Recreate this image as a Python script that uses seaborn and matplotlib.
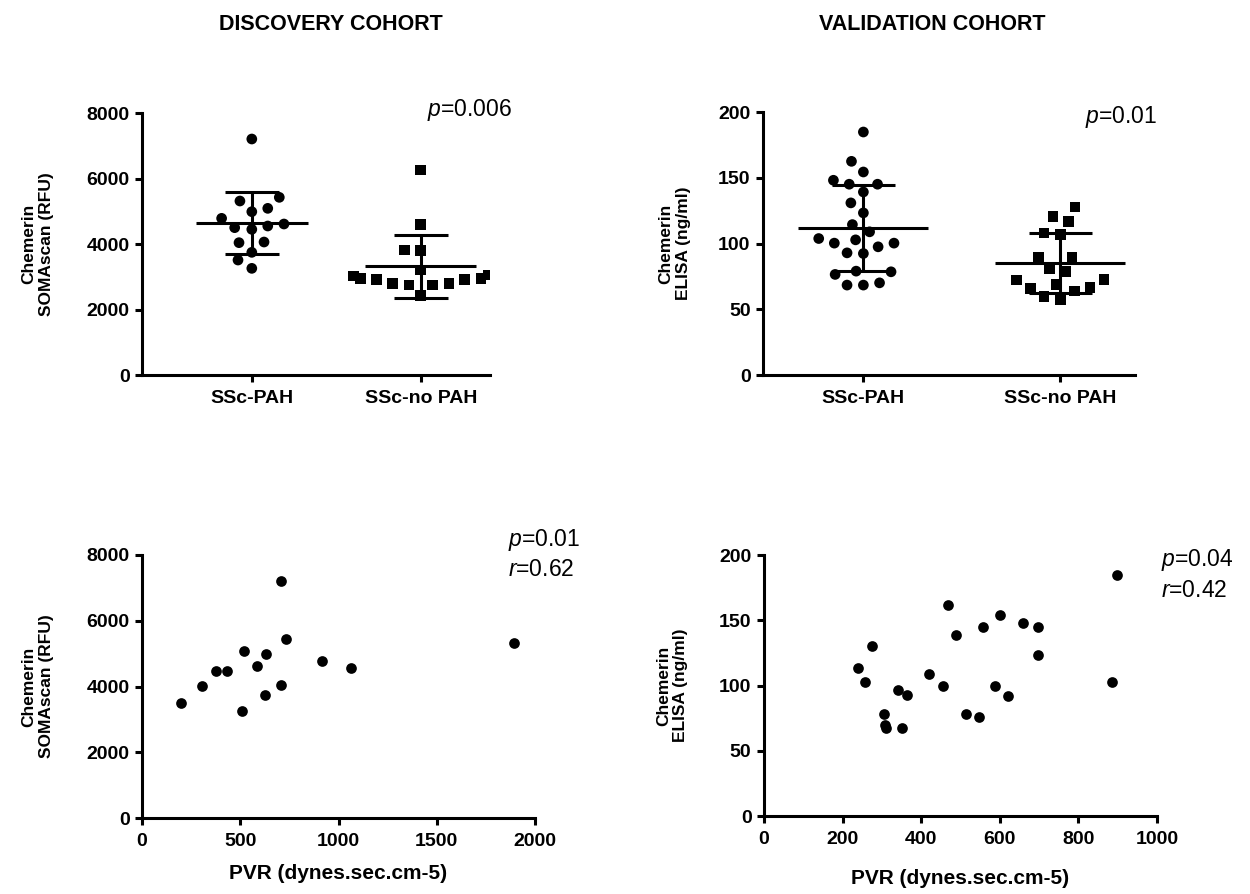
import numpy as np
import pandas as pd
import matplotlib
matplotlib.use('Agg')
import matplotlib.pyplot as plt
import seaborn as sns

# chemerin, discovery cohort (SOMAscan, RFU)
groups = ['SSc-PAH', 'SSc-no PAH']
disc_pah = [7206, 5425, 5313, 5089, 4987, 4784, 4611, 4499, 4448, 4550, 4061, 4041, 3746, 3511, 3257]
disc_nopah = [6260, 4601, 3796, 3817, 3206, 3053, 2952, 3023, 2748, 2952, 2799, 2799, 2748, 2921, 2921, 2422]

# chemerin, validation cohort (ELISA, ng/ml)
val_pah = [184.8, 162.5, 154.4, 145.1, 148.1, 145.1, 139.2, 130.9, 123.3, 114.4, 108.9, 100.3,
           103.8, 102.8, 97.5, 100.3, 92.9, 92.4, 79.0, 78.5, 76.5, 68.4, 70.1, 68.4]
val_nopah = [127.8, 120.8, 117.0, 108.1, 106.8, 89.4, 89.4, 81.0, 78.5, 72.7, 72.2, 69.1,
             65.8, 66.6, 63.8, 57.7, 59.5]

# PVR vs chemerin (PAH patients)
disc_pvr = [705, 732, 518, 633, 587, 375, 433, 915, 1066, 1893, 306, 705, 627, 197, 508]
disc_chem = [7208, 5442, 5086, 4985, 4609, 4467, 4467, 4761, 4569, 5310, 4030, 4051, 3756, 3513, 3259]
val_pvr = [899, 467, 600, 659, 697, 556, 488, 276, 697, 240, 420, 258, 886, 456, 587, 340,
           364, 622, 306, 513, 546, 309, 310, 350]
val_chem = [184.7, 162.0, 153.8, 147.7, 145.1, 145.1, 138.7, 130.6, 123.1, 113.7, 109.1, 102.7,
            102.5, 99.9, 99.9, 96.3, 92.5, 92.0, 77.9, 77.9, 75.9, 69.7, 67.4, 67.7]

sns.set_style('ticks')
plt.rcParams['font.family'] = ['Liberation Sans', 'DejaVu Sans']
plt.rcParams['text.color'] = 'black'
plt.rcParams['axes.labelcolor'] = 'black'
plt.rcParams['xtick.color'] = 'black'
plt.rcParams['ytick.color'] = 'black'
plt.rcParams['mathtext.fontset'] = 'custom'
plt.rcParams['mathtext.it'] = 'Liberation Sans:italic'
plt.rcParams['mathtext.rm'] = 'Liberation Sans'

LW = 2.2
MS = 7.7


def style_axes(ax, xsize):
    sns.despine(ax=ax)
    for side in ['left', 'bottom']:
        ax.spines[side].set_linewidth(LW)
        ax.spines[side].set_color('black')
    ax.tick_params(axis='both', colors='black', width=LW, length=5, direction='out')
    ax.tick_params(axis='y', labelsize=14, pad=4)
    ax.tick_params(axis='x', labelsize=xsize, pad=6)
    for lbl in ax.get_xticklabels() + ax.get_yticklabels():
        lbl.set_fontweight('bold')


def dot_panel(ax, pah, nopah, ymax, ylabel, xlim):
    df = pd.DataFrame({'group': [groups[0]] * len(pah) + [groups[1]] * len(nopah),
                       'value': pah + nopah})
    # invisible edge spreads the swarm a bit, like the GraphPad column layout
    sns.swarmplot(data=df[df.group == groups[0]], x='group', y='value', order=groups,
                  marker='o', color='black', size=MS, linewidth=3.5, edgecolor='none', ax=ax)
    sns.swarmplot(data=df[df.group == groups[1]], x='group', y='value', order=groups,
                  marker='s', color='black', size=MS, linewidth=3.5, edgecolor='none', ax=ax)
    stats = df.groupby('group')['value'].agg(['mean', 'std'])
    for i, g in enumerate(groups):
        m, s = stats.loc[g, 'mean'], stats.loc[g, 'std']
        ax.hlines(m, i - 0.33, i + 0.33, color='black', lw=LW)
        ax.hlines([m - s, m + s], i - 0.16, i + 0.16, color='black', lw=LW)
        ax.vlines(i, m - s, m + s, color='black', lw=LW)
    ax.set_xlim(*xlim)
    ax.set_ylim(0, ymax)
    ax.set_yticks(np.linspace(0, ymax, 5))
    ax.set_xlabel('')
    ax.set_ylabel(ylabel, fontsize=12.5, fontweight='bold', va='center', linespacing=1.2)
    style_axes(ax, 14)


def corr_panel(ax, x, y, xmax, xstep, ymax, ylabel):
    sns.scatterplot(x=x, y=y, color='black', s=MS ** 2, linewidth=0, ax=ax)
    ax.set_xlim(0, xmax)
    ax.set_ylim(0, ymax)
    ax.set_xticks(np.arange(0, xmax + 1, xstep))
    ax.set_yticks(np.linspace(0, ymax, 5))
    ax.set_xlabel('PVR (dynes.sec.cm-5)', fontsize=15, fontweight='bold', labelpad=10)
    ax.set_ylabel(ylabel, fontsize=12.5, fontweight='bold', va='center', linespacing=1.2)
    style_axes(ax, 14)


fig = plt.figure(figsize=(12.5, 8.94), dpi=100)
ax1 = fig.add_axes([0.1136, 0.5805, 0.2784, 0.2931])
ax2 = fig.add_axes([0.6104, 0.5805, 0.2976, 0.2942])
ax3 = fig.add_axes([0.1136, 0.0850, 0.3144, 0.2942])
ax4 = fig.add_axes([0.6112, 0.0872, 0.3144, 0.2919])

dot_panel(ax1, disc_pah, disc_nopah, 8000, 'Chemerin\nSOMAscan (RFU)', (-0.65, 1.41))
dot_panel(ax2, val_pah, val_nopah, 200, 'Chemerin\nELISA (ng/ml)', (-0.51, 1.38))
corr_panel(ax3, disc_pvr, disc_chem, 2000, 500, 8000, 'Chemerin\nSOMAscan (RFU)')
corr_panel(ax4, val_pvr, val_chem, 1000, 200, 200, 'Chemerin\nELISA (ng/ml)')

ax1.yaxis.set_label_coords(-0.30, 0.5)
ax2.yaxis.set_label_coords(-0.237, 0.5)
ax3.yaxis.set_label_coords(-0.265, 0.5)
ax4.yaxis.set_label_coords(-0.234, 0.5)
ax4.xaxis.labelpad = 15

ptxt = dict(fontsize=16.5, fontweight='normal', color='black', ha='left', va='center')
ax1.text(0.82, 1.01, '$p$=0.006', transform=ax1.transAxes, **ptxt)
ax2.text(0.866, 0.98, '$p$=0.01', transform=ax2.transAxes, **ptxt)
ax3.text(0.931, 1.057, '$p$=0.01', transform=ax3.transAxes, **ptxt)
ax3.text(0.931, 0.943, '$r$=0.62', transform=ax3.transAxes, **ptxt)
ax4.text(1.01, 0.981, '$p$=0.04', transform=ax4.transAxes, **ptxt)
ax4.text(1.01, 0.866, '$r$=0.42', transform=ax4.transAxes, **ptxt)

fig.text(0.265, 0.973, 'DISCOVERY COHORT', fontsize=15.5, fontweight='bold', ha='center', va='center')
fig.text(0.746, 0.973, 'VALIDATION COHORT', fontsize=15.5, fontweight='bold', ha='center', va='center')

fig.savefig('out.png', dpi=100)
